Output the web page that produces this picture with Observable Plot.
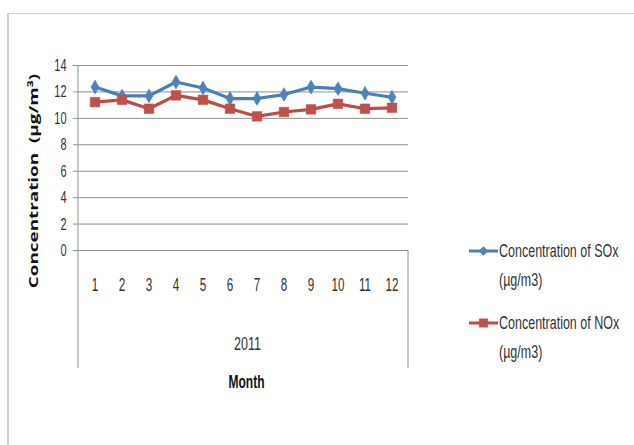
<!DOCTYPE html>
<html>
<head>
<meta charset="utf-8">
<script src="https://cdn.jsdelivr.net/npm/d3@7"></script>
<script src="https://cdn.jsdelivr.net/npm/@observablehq/plot@0.6"></script>
<style>
  body { margin: 0; background: #fff; }
  #chart { position: relative; width: 634px; height: 445px; overflow: hidden; background: #fff; }
  #outline { position: absolute; left: 7px; top: 13px; width: 700px; height: 500px;
             border-top: 1px solid #cfcfcf; border-left: 2px solid #cfcfcf; }
  #legend { position: absolute; left: 0; top: 0; font-family: "Liberation Sans", Arial, sans-serif;
            font-size: 12.5px; color: #333; }
  #legend svg { position: absolute; }
  #legend .lab { position: absolute; line-height: 16px; height: 16px; white-space: nowrap;
                 transform: scaleY(1.5); transform-origin: left center; }
</style>
</head>
<body>
<div id="chart"><div id="outline"></div></div>
<script>
// Monthly mean concentrations for 2011
const months = [1, 2, 3, 4, 5, 6, 7, 8, 9, 10, 11, 12];
const soxValues = [12.37, 11.7, 11.7, 12.75, 12.3, 11.5, 11.5, 11.8, 12.37, 12.25, 11.9, 11.6];
const noxValues = [11.23, 11.4, 10.73, 11.74, 11.4, 10.73, 10.15, 10.48, 10.68, 11.1, 10.73, 10.8];
const yTicks = [0, 2, 4, 6, 8, 10, 12, 14];

const seriesKeys = ["SOx", "NOx"];
const seriesLines = [["Concentration of SOx", "(µg/m3)"], ["Concentration of NOx", "(µg/m3)"]];
const lineColors = ["#4A7EBB", "#BE4B48"];
const markerColors = ["#4F81BD", "#C0504D"];
const markerSymbols = ["diamond", "square"];
const markerRadius = [4.2, 5.4];

const yearLabel = "2011";
const xTitle = "Month";
const yTitle = "Concentration\u00a0 (µg/m³)";

const seriesValues = [soxValues, noxValues];
const rows = seriesKeys.flatMap((k, i) => months.map((m, j) => ({series: k, month: m, value: seriesValues[i][j]})));

const sans = "'Liberation Sans', Arial, sans-serif";

const marks = [
  Plot.gridY(yTicks, {stroke: "#8f8f8f", strokeOpacity: 1, strokeWidth: 1}),
  Plot.axisY(yTicks, {tickSize: 5, tickPadding: 7, fontSize: 11, label: null, stroke: "#8f8f8f", fill: "#333", fontFamily: sans}),
  Plot.axisX(months, {tickSize: 0, tickPadding: 35, fontSize: 11.7, label: null, fill: "#333", fontFamily: sans, lineAnchor: "middle"}),
  Plot.text([yearLabel], {frameAnchor: "bottom", dx: 4, dy: 93, fontSize: 12.5, fill: "#333", fontFamily: sans, lineAnchor: "middle"}),
  Plot.text([xTitle], {frameAnchor: "bottom", dx: 3, dy: 132, fontSize: 12, fontWeight: "bold", fill: "#111", fontFamily: sans, lineAnchor: "middle"}),
  Plot.text([yTitle], {frameAnchor: "left", textAnchor: "middle", dx: -45, dy: 23, rotate: -90, fontSize: 13, fontWeight: "bold", fill: "#111", fontFamily: "'Open Sans', sans-serif", lineAnchor: "middle"})
];
seriesKeys.forEach((k, i) => {
  const d = rows.filter(r => r.series === k);
  marks.push(Plot.lineY(d, {x: "month", y: "value", stroke: lineColors[i], strokeWidth: 3.2}));
});
seriesKeys.forEach((k, i) => {
  const d = rows.filter(r => r.series === k);
  marks.push(Plot.dot(d, {x: "month", y: "value", symbol: () => markerSymbols[i], fill: markerColors[i], stroke: lineColors[i], strokeWidth: 0.5, r: markerRadius[i]}));
});

const plot = Plot.plot({
  width: 634,
  height: 445,
  marginLeft: 78,
  marginRight: 226,
  marginTop: 65,
  marginBottom: 195,
  style: {background: "transparent", overflow: "visible"},
  x: {type: "band", domain: months, padding: 0},
  y: {domain: [0, 14]},
  symbol: {type: "ordinal"},
  marks
});
plot.style.position = "absolute";
plot.style.left = "0";
plot.style.top = "0";
document.getElementById("chart").appendChild(plot);

// Tall, narrow lettering: stretch each label about its own anchor point
function stretch(selection, sx, sy) {
  selection.each(function () {
    const t = this.getAttribute("transform");
    if (t) {
      this.setAttribute("transform", `${t} scale(${sx},${sy})`);
    } else {
      const x = +this.getAttribute("x") || 0, y = +this.getAttribute("y") || 0;
      this.removeAttribute("x");
      this.removeAttribute("y");
      this.setAttribute("transform", `translate(${x},${y}) scale(${sx},${sy})`);
    }
  });
}
const svg = d3.select(plot);
const byText = s => svg.selectAll("text").filter(function () { return this.textContent === s; });
stretch(svg.selectAll('g[aria-label="y-axis tick label"] text'), 1, 1.55);
stretch(svg.selectAll('g[aria-label="x-axis tick label"] text'), 1, 1.55);
stretch(byText(yearLabel), 1, 1.5);
stretch(byText(xTitle), 1, 1.5);
stretch(byText(yTitle), 1.45, 1);

// Category-axis box: left axis line running into the month area, and its right edge
const xs = plot.scale("x"), ys = plot.scale("y");
const boxLeft = xs.range[0], boxRight = xs.range[1];
const plotTop = ys.apply(14), base = ys.apply(0);
const boxBottom = base + 118;
svg.append("line").attr("x1", boxLeft).attr("x2", boxLeft).attr("y1", plotTop).attr("y2", boxBottom)
  .attr("stroke", "#8f8f8f").attr("stroke-width", 1);
svg.append("line").attr("x1", boxRight).attr("x2", boxRight).attr("y1", base).attr("y2", boxBottom)
  .attr("stroke", "#8f8f8f").attr("stroke-width", 1);

// Legend: swatch (line + marker) followed by a two-line label
const legend = d3.select("#chart").append("div").attr("id", "legend");
const legendX = 469;
const legendRows = [251, 323];
const legendLineGap = 29;
seriesKeys.forEach((k, i) => {
  const cy = legendRows[i];
  const sw = legend.append("svg").attr("width", 30).attr("height", 20)
    .style("left", legendX + "px").style("top", (cy - 10) + "px");
  sw.append("line").attr("x1", 0).attr("x2", 29).attr("y1", 10).attr("y2", 10)
    .attr("stroke", lineColors[i]).attr("stroke-width", 3);
  sw.append("path").attr("transform", "translate(14.5,10)")
    .attr("d", d3.symbol(i === 0 ? d3.symbolDiamond2 : d3.symbolSquare2, i === 0 ? 50 : 90)())
    .attr("fill", markerColors[i]).attr("stroke", lineColors[i]).attr("stroke-width", 0.5);
  seriesLines[i].forEach((line, j) => {
    legend.append("div").attr("class", "lab")
      .style("left", (legendX + 30) + "px")
      .style("top", (cy + j * legendLineGap - 8) + "px")
      .text(line);
  });
});
</script>
</body>
</html>
